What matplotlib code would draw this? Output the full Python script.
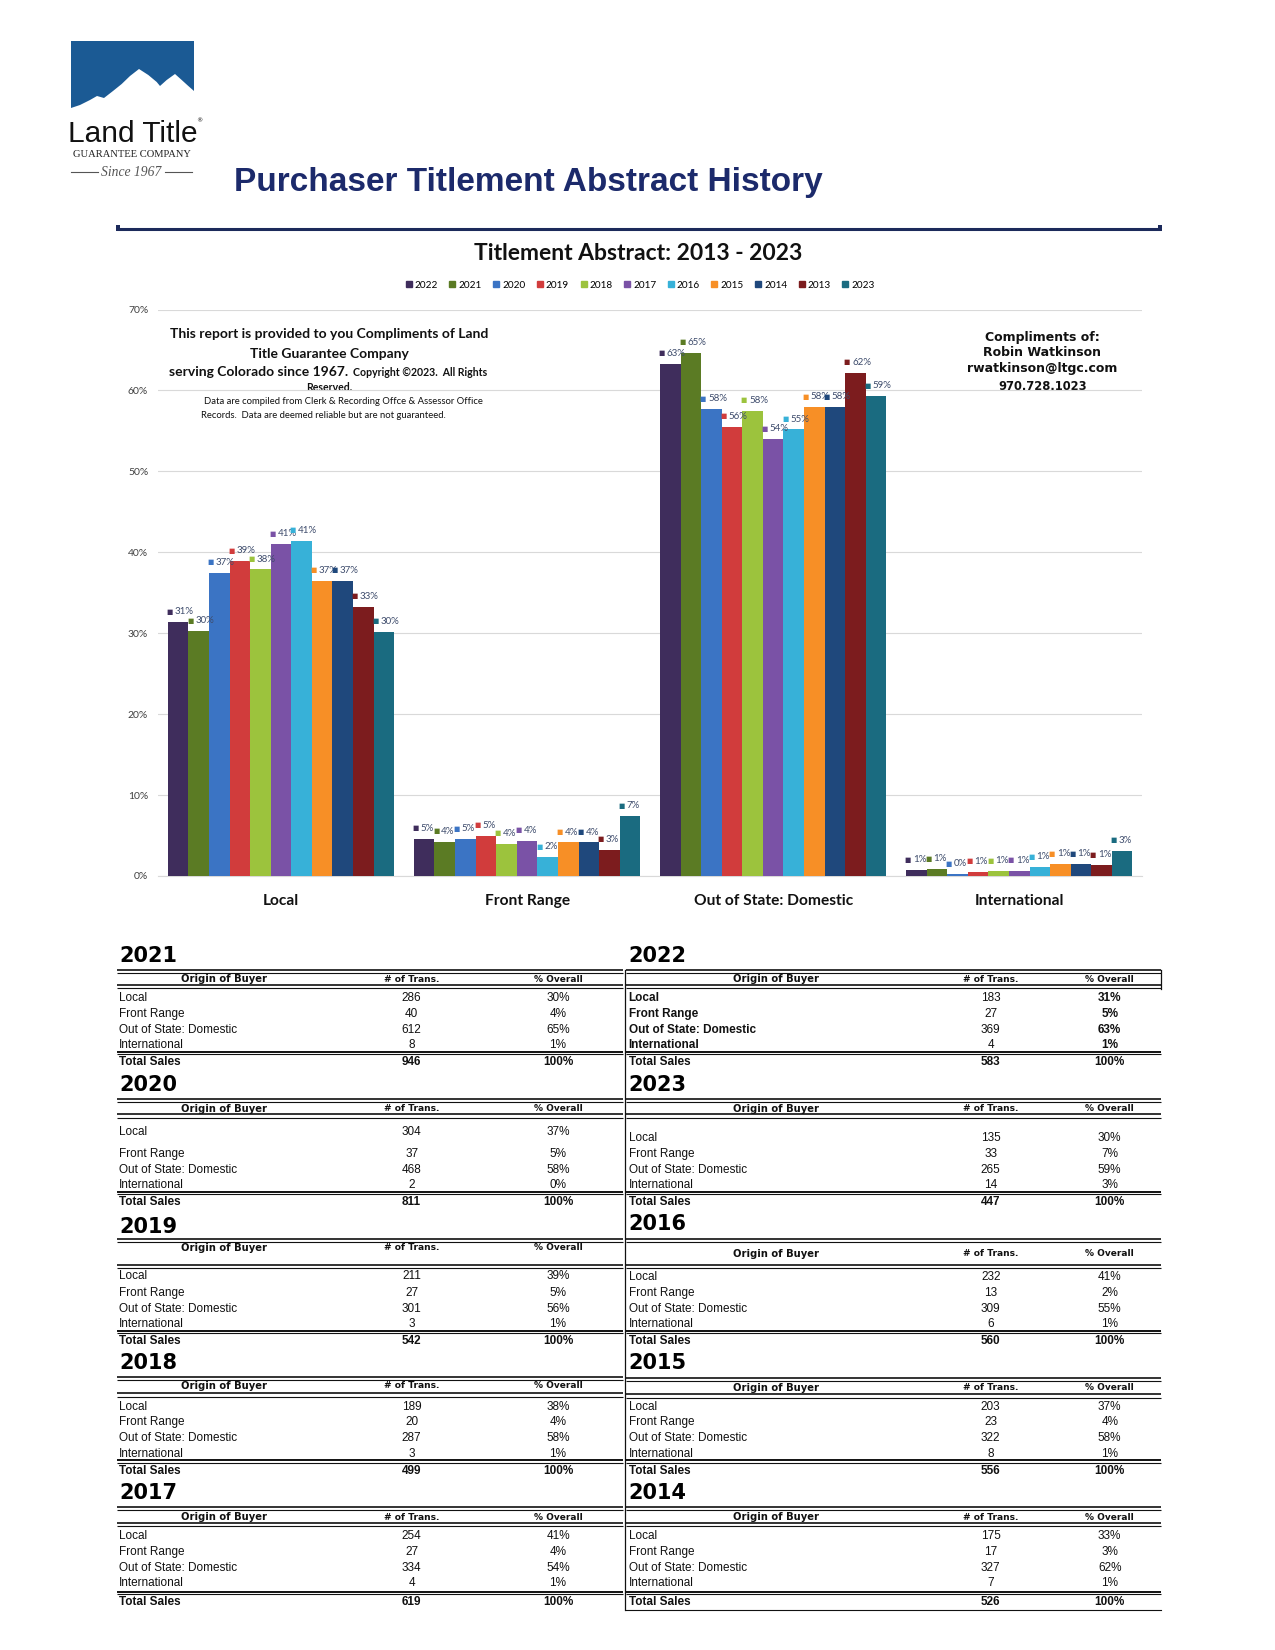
import matplotlib
matplotlib.use('Agg')
import matplotlib.pyplot as plt
import numpy as np
from matplotlib.patches import Rectangle, Polygon
from matplotlib.lines import Line2D

# ---------------- chart data ----------------
categories = ['Local', 'Front Range', 'Out of State: Domestic', 'International']
series_years = ['2022', '2021', '2020', '2019', '2018', '2017', '2016', '2015', '2014', '2013', '2023']
series_colors = ['#3f2d5c', '#5b7b24', '#3b74c4', '#d13c3c', '#9cc33d', '#7a52a6',
                 '#37b1d8', '#f78f26', '#1f487c', '#7c1c1e', '#1a6b80']
local_pct = [31.39, 30.23, 37.48, 38.93, 37.88, 41.03, 41.43, 36.51, 36.51, 33.27, 30.20]
front_range_pct = [4.63, 4.23, 4.56, 4.98, 4.01, 4.36, 2.32, 4.14, 4.14, 3.23, 7.38]
out_of_state_pct = [63.29, 64.69, 57.71, 55.54, 57.52, 53.96, 55.18, 57.91, 57.91, 62.17, 59.28]
international_pct = [0.69, 0.85, 0.25, 0.55, 0.60, 0.65, 1.07, 1.44, 1.44, 1.33, 3.13]
y_ticks = [0, 10, 20, 30, 40, 50, 60, 70]
y_tick_labels = ['0%', '10%', '20%', '30%', '40%', '50%', '60%', '70%']

# ---------------- table data ----------------
origin_labels = ['Local', 'Front Range', 'Out of State: Domestic', 'International']
trans_2021 = [286, 40, 612, 8];   pct_2021 = ['30%', '4%', '65%', '1%'];  total_2021 = 946
trans_2022 = [183, 27, 369, 4];   pct_2022 = ['31%', '5%', '63%', '1%'];  total_2022 = 583
trans_2020 = [304, 37, 468, 2];   pct_2020 = ['37%', '5%', '58%', '0%'];  total_2020 = 811
trans_2023 = [135, 33, 265, 14];  pct_2023 = ['30%', '7%', '59%', '3%'];  total_2023 = 447
trans_2019 = [211, 27, 301, 3];   pct_2019 = ['39%', '5%', '56%', '1%'];  total_2019 = 542
trans_2016 = [232, 13, 309, 6];   pct_2016 = ['41%', '2%', '55%', '1%'];  total_2016 = 560
trans_2018 = [189, 20, 287, 3];   pct_2018 = ['38%', '4%', '58%', '1%'];  total_2018 = 499
trans_2015 = [203, 23, 322, 8];   pct_2015 = ['37%', '4%', '58%', '1%'];  total_2015 = 556
trans_2017 = [254, 27, 334, 4];   pct_2017 = ['41%', '4%', '54%', '1%'];  total_2017 = 619
trans_2014 = [175, 17, 327, 7];   pct_2014 = ['33%', '3%', '62%', '1%'];  total_2014 = 526

S = 1275 / 1211.0  # layout scale (layout measured on a reduced view)

fig = plt.figure(figsize=(12.75, 16.5), dpi=100)
page = fig.add_axes([0, 0, 1, 1], zorder=0)
page.set_xlim(0, 1275)
page.set_ylim(1650, 0)
page.axis('off')

def P(v):
    return v * S

# ---------------- logo ----------------
logo_blue = '#1b5a94'
page.add_patch(Rectangle((71, 41), 123, 72, facecolor=logo_blue, edgecolor='none'))
mountain = [(71, 108), (80, 105), (90, 100), (97, 96), (104, 98), (113, 91), (121.7, 84),
            (130, 76), (139, 69), (148.3, 75), (156.7, 82), (160, 86), (166.7, 80),
            (175, 74), (181.7, 80), (188.3, 86), (194, 91), (194, 113.5), (71, 113.5)]
page.add_patch(Polygon(mountain, closed=True, facecolor='white', edgecolor='none'))
page.text(68, 134, 'Land Title', fontsize=21.5, family=['Liberation Sans', 'DejaVu Sans'],
          color='#111111', va='center', ha='left')
page.text(196, 121, '®', fontsize=4.5, color='#111111', va='center', ha='left')
page.text(132, 154.5, 'GUARANTEE COMPANY', fontsize=7.6, family=['Liberation Serif', 'DejaVu Serif'],
          color='#222222', va='center', ha='center')
page.text(131, 172, 'Since 1967', fontsize=9.8, family=['Liberation Serif', 'DejaVu Serif'],
          style='italic', color='#555555', va='center', ha='center')
page.plot([71, 98], [172, 172], color='#555555', lw=0.8)
page.plot([165, 192], [172, 172], color='#555555', lw=0.8)

# ---------------- header ----------------
page.text(P(222), P(173), 'Purchaser Titlement Abstract History', fontsize=24, fontweight='bold',
          family=['Liberation Sans', 'DejaVu Sans'], color='#1c2a6b', va='center', ha='left')
page.plot([P(111), P(1103)], [P(217.5), P(217.5)], color='#1c2a5b', lw=2.2, solid_capstyle='butt')
page.add_patch(Rectangle((P(110), P(214)), 4, 6, facecolor='#1c2a5b', edgecolor='none'))
page.add_patch(Rectangle((P(1100), P(214)), 4, 6, facecolor='#1c2a5b', edgecolor='none'))

# ---------------- chart ----------------
left, right, y0, y70 = P(150), P(1085), P(832), P(294)
ax = fig.add_axes([left / 1275, 1 - y0 / 1650, (right - left) / 1275, (y0 - y70) / 1650], zorder=2)
ax.patch.set_alpha(0)
series_values = np.array([local_pct, front_range_pct, out_of_state_pct, international_pct]).T
n = len(series_years)
group = 0.92
bw = group / n
xc = np.arange(len(categories))
label_font = ['Lato', 'DejaVu Sans']
for i, (yr, col) in enumerate(zip(series_years, series_colors)):
    xs = xc - group / 2 + bw * (i + 0.5)
    ax.bar(xs, series_values[i], bw, color=col, label=yr, zorder=3, linewidth=0)
    for xx, v in zip(xs, series_values[i]):
        ax.annotate('■', xy=(xx, v), xytext=(-6.2, 7.5), textcoords='offset points',
                    ha='center', va='center', fontsize=4.8, color=col,
                    family=['DejaVu Sans'], zorder=4)
        ax.annotate(f'{v:.0f}%', xy=(xx, v), xytext=(-2.5, 7.5), textcoords='offset points',
                    ha='left', va='center', fontsize=7, color='#3e4c6c',
                    family=label_font, zorder=4)

ax.set_xlim(-0.5, 3.5)
ax.set_ylim(0, 70)
ax.set_yticks(y_ticks)
ax.set_yticklabels(y_tick_labels, fontsize=7.5, color='#404040', family=label_font)
ax.set_xticks(xc)
ax.set_xticklabels(categories, fontsize=11.2, fontweight='bold', color='#111111', family=label_font)
ax.tick_params(axis='both', length=0)
ax.tick_params(axis='y', pad=7)
ax.tick_params(axis='x', pad=13)
ax.grid(axis='y', color='#d9d9d9', lw=0.8, zorder=0)
for s in ['left', 'right', 'top']:
    ax.spines[s].set_visible(False)
ax.spines['bottom'].set_color('#d9d9d9')
ax.set_axisbelow(True)

handles = [Line2D([], [], marker='s', linestyle='', color=c, markersize=4.3) for c in series_colors]
fig.legend(handles, series_years, loc='center', bbox_to_anchor=(P(608) / 1275, 1 - P(271) / 1650),
           ncol=n, frameon=False, handlelength=0.6, handletextpad=0.3,
           columnspacing=1.15, prop={'family': label_font, 'size': 7.2})

page.text(P(606), P(241), 'Titlement Abstract: 2013 - 2023', fontsize=16.5, fontweight='bold',
          family=label_font, color='#111111', ha='center', va='center', zorder=3)

# text boxes inside chart
tb = dict(family=label_font, color='#111111', zorder=3, va='center')
page.text(P(313), P(317), 'This report is provided to you Compliments of Land', fontsize=10,
          fontweight='bold', ha='center', **tb)
page.text(P(313), P(336), 'Title Guarantee Company', fontsize=10, fontweight='bold', ha='center', **tb)
page.text(P(331), P(353), 'serving Colorado since 1967.', fontsize=10, fontweight='bold', ha='right', **tb)
page.text(P(335), P(354), 'Copyright ©2023.  All Rights', fontsize=7.6, fontweight='bold', ha='left', **tb)
page.text(P(313), P(368.5), 'Reserved.', fontsize=7.6, fontweight='bold', ha='center', **tb)
page.text(P(194), P(381.5), 'Data are compiled from Clerk & Recording Offce & Assessor Office', fontsize=6.8,
          ha='left', **tb)
page.text(P(191), P(394.5), 'Records.  Data are deemed reliable but are not guaranteed.', fontsize=6.8,
          ha='left', **tb)

rb = dict(family=['DejaVu Sans'], color='#111111', zorder=3, va='center', ha='center', fontweight='bold')
page.text(P(990), P(321), 'Compliments of:', fontsize=9, **rb)
page.text(P(990), P(335), 'Robin Watkinson', fontsize=9, **rb)
page.text(P(990), P(350), 'rwatkinson@ltgc.com', fontsize=9, **rb)
page.text(P(990), P(367), '970.728.1023', fontsize=8.3, **rb)

# ---------------- tables ----------------
left_cols = dict(x0=111, x1=592, label_x=113, origin_cx=213, trans_cx=391, pct_cx=530)
right_cols = dict(x0=595, x1=1103, label_x=597, origin_cx=737, trans_cx=941, pct_cx=1054)

tables = [
    ('2021', left_cols, trans_2021, pct_2021, total_2021, 907, 930, [947, 962, 977, 992], 1008, 923, 937, 1000, False),
    ('2020', left_cols, trans_2020, pct_2020, total_2020, 1030, 1053, [1074, 1095, 1110, 1125], 1141, 1045, 1060, 1133, False),
    ('2019', left_cols, trans_2019, pct_2019, total_2019, 1164, 1185, [1211, 1227, 1242, 1257], 1273, 1178, 1203, 1265, False),
    ('2018', left_cols, trans_2018, pct_2018, total_2018, 1294, 1316, [1335, 1350, 1365, 1380], 1396, 1309, 1325, 1388, False),
    ('2017', left_cols, trans_2017, pct_2017, total_2017, 1417, 1441, [1458, 1473, 1488, 1503], 1521, 1433, 1448, 1513, False),
    ('2022', right_cols, trans_2022, pct_2022, total_2022, 907, 930, [947, 962, 977, 992], 1008, 923, 937, 1000, True),
    ('2023', right_cols, trans_2023, pct_2023, total_2023, 1030, 1053, [1080, 1095, 1110, 1125], 1141, 1045, 1060, 1133, False),
    ('2016', right_cols, trans_2016, pct_2016, total_2016, 1162, 1191, [1212, 1227, 1242, 1257], 1273, 1178, 1203, 1265, False),
    ('2015', right_cols, trans_2015, pct_2015, total_2015, 1294, 1318, [1335, 1350, 1365, 1380], 1396, 1310, 1326, 1388, False),
    ('2014', right_cols, trans_2014, pct_2014, total_2014, 1417, 1441, [1458, 1473, 1488, 1503], 1521, 1433, 1448, 1513, False),
]

row_font = ['Liberation Sans', 'DejaVu Sans']
for (yr, c, trans, pcts, total, hy, hdr, rows, ty, top_l, mid_l, tot_l, bold_rows) in tables:
    x0, x1 = P(c['x0']), P(c['x1'])
    page.text(P(c['label_x']), P(hy) + 1, yr, fontsize=15, fontweight='heavy',
              family=['DejaVu Sans'], color='#000000', ha='left', va='center')
    for yl, lw in [(top_l - 1.5, 1.2), (top_l + 1.5, 0.8), (mid_l - 1.5, 1.2), (mid_l + 1.5, 0.8),
                   (tot_l - 1.0, 1.4), (tot_l + 1.2, 0.8)]:
        page.plot([x0, x1], [P(yl), P(yl)], color='#111111', lw=lw, solid_capstyle='butt')
    hf = dict(fontweight='bold', family=['DejaVu Sans'], color='#111111', va='center', ha='center')
    page.text(P(c['origin_cx']), P(hdr), 'Origin of Buyer', fontsize=7.2, **hf)
    page.text(P(c['trans_cx']), P(hdr), '# of Trans.', fontsize=6.6, **hf)
    page.text(P(c['pct_cx']), P(hdr), '% Overall', fontsize=6.5, **hf)
    fw = 'bold' if bold_rows else 'normal'
    for lab, t, pc, ry in zip(origin_labels, trans, pcts, rows):
        page.text(P(c['label_x']), P(ry) + 1, lab, fontsize=8.5, fontweight=fw, family=row_font,
                  color='#111111', ha='left', va='center')
        page.text(P(c['trans_cx']), P(ry) + 1, str(t), fontsize=8.5, family=row_font,
                  color='#111111', ha='center', va='center')
        page.text(P(c['pct_cx']), P(ry) + 1, pc, fontsize=8.5, fontweight=fw, family=row_font,
                  color='#111111', ha='center', va='center')
    page.text(P(c['label_x']), P(ty) + 1, 'Total Sales', fontsize=8.5, fontweight='bold', family=row_font,
              color='#111111', ha='left', va='center')
    page.text(P(c['trans_cx']), P(ty) + 1, str(total), fontsize=8.5, fontweight='bold', family=row_font,
              color='#111111', ha='center', va='center')
    page.text(P(c['pct_cx']), P(ty) + 1, '100%', fontsize=8.5, fontweight='bold', family=row_font,
              color='#111111', ha='center', va='center')

# column separator and 2022 header box edge
page.plot([P(594), P(594)], [P(921), P(1529)], color='#111111', lw=0.9)
page.plot([P(1103), P(1103)], [P(921), P(939)], color='#111111', lw=0.9)
page.plot([P(595), P(1103)], [P(1529), P(1529)], color='#111111', lw=0.8)

fig.savefig('out.png', dpi=100)
